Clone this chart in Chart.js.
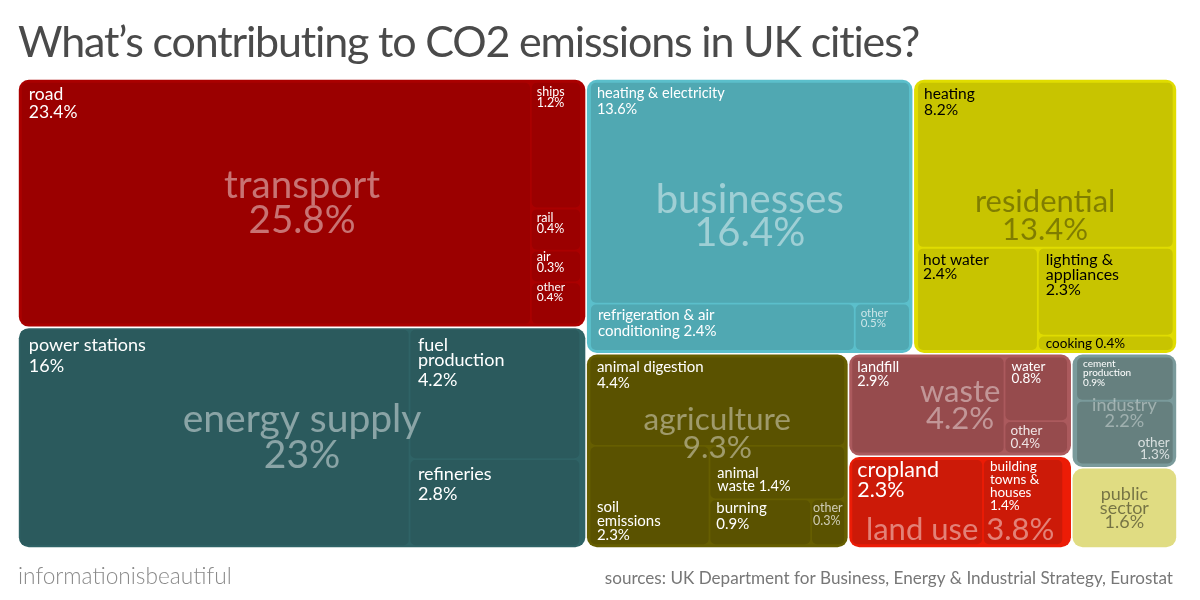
<!DOCTYPE html>
<html><head><meta charset="utf-8">
<script src="https://cdn.jsdelivr.net/npm/chart.js@4"></script>
<style>html,body{margin:0;padding:0;background:#fff}canvas{display:block}</style>
</head><body><canvas id="c" width="1200" height="600"></canvas>
<script>
// ---------- data ----------
const titleText = "What\u2019s contributing to CO2 emissions in UK cities?";
const brandText = "informationisbeautiful";
const sourceText = "sources: UK Department for Business, Energy & Industrial Strategy, Eurostat";

const groupNames = ["transport","energy supply","businesses","residential","agriculture","waste","land use","industry","public\nsector"];
const groupValues = [25.8,23,16.4,13.4,9.3,4.2,3.8,2.2,1.6];
// the blocks' areas as measured in the picture differ slightly from their printed shares
const groupAreas = [25.9,23,16.5,13.3,9.35,4.2,3.76,2.2,1.55];

// a name ending in a space keeps its value on the same line
const transportNames = ["road","ships","rail","air","other"];
const transportValues = [23.4,1.2,0.4,0.3,0.4];
const energyNames = ["power stations","fuel\nproduction","refineries"];
const energyValues = [16,4.2,2.8];
const businessNames = ["heating & electricity","refrigeration & air\nconditioning ","other"];
const businessValues = [13.6,2.4,0.5];
const residentialNames = ["heating","hot water","lighting &\nappliances","cooking "];
const residentialValues = [8.2,2.4,2.3,0.4];
const agricultureNames = ["animal digestion","soil\nemissions","animal\nwaste ","burning","other"];
const agricultureValues = [4.4,2.3,1.4,0.9,0.3];
const wasteNames = ["landfill","water","other"];
const wasteValues = [2.9,0.8,0.4];
const landNames = ["cropland","building\ntowns &\nhouses"];
const landValues = [2.3,1.4];
const industryNames = ["cement\nproduction","other"];
const industryValues = [0.9,1.3];
const publicNames = [];
const publicValues = [];

const leafNames = [transportNames,energyNames,businessNames,residentialNames,agricultureNames,wasteNames,landNames,industryNames,publicNames];
const leafValues = [transportValues,energyValues,businessValues,residentialValues,agricultureValues,wasteValues,landValues,industryValues,publicValues];

// ---------- how the treemap nests (indices into the arrays above) ----------
const H = (...k) => ({dir:'h',kids:k}), V = (...k) => ({dir:'v',kids:k});
const groupNesting = H(V(0,1), V(H(2,3), H(4,V(5,6),V(7,8))));
const leafNesting = [
  H(0,V(1,2,3,4)), H(0,V(1,2)), V(0,H(1,2)), V(0,H(1,V(2,3))),
  V(0,H(1,V(2,H(3,4)))), H(0,V(1,2)), H(0,1), V(0,1), null
];
const keepsSpareRoom = [true,false,false,false,false,false,true,false,false];

// ---------- styles ----------
const PLOT_W = 1159, PLOT_H = 469;
const groupFill  = ['#aa0000','#2f6366','#5bbfcb','#e0dc00','#665e00','#ab5a5d','#ec1c06','#7a9a9b','#e0dc82'];
const leafFill   = ['#9b0000','#2b5a5d','#50a8b2','#c8c400','#5a5200','#964b4d','#cc1a08','#66807f','#e0dc82'];
const groupInk   = ['rgba(255,255,255,.45)','rgba(255,255,255,.45)','rgba(255,255,255,.45)','rgba(0,0,0,.36)','rgba(255,255,255,.42)','rgba(255,255,255,.42)','rgba(255,255,255,.45)','rgba(255,255,255,.38)','rgba(0,0,0,.48)'];
const leafInk    = ['#fff','#fff','#fff','#000','#fff','#fff','#fff','#fff','#fff'];
const groupPad   = [[3,3,3,3],[1.5,1.5,6,2],[4,3,3.5,3],[4,3,3.5,3],[3.5,3,3.5,3],[3,3,4,3],[3,3,3,3],[4.5,3,3.5,3.5],[0,0,0,0]];
// size, line gap(s), dy of first line from the group's middle
const groupLabel = [
  {s:38.5,gaps:[35],dy:0},{s:39,gaps:[36],dy:0},{s:40,gaps:[33],dy:0},{s:31,gaps:[28],dy:0},
  {s:31.5,gaps:[28],dy:-17},{s:31,gaps:[27],dy:0},{s:31,gaps:[],dy:0,oneLine:true,atY:530},{s:18,gaps:[16],dy:2},{s:18,gaps:[14,14],dy:0}
];
const leafLabel = [
 [{s:17.5,dx:7,dy:12,g:[18]},{s:12.5,dx:5,dy:9,g:[11]},{s:12.5,dx:5,dy:9,g:[11]},{s:12.5,dx:5,dy:5,g:[11]},{s:12,dx:5,dy:4,g:[10]}],
 [{s:18,dx:8.5,dy:15,g:[21]},{s:18,dx:7.5,dy:15,g:[15,20]},{s:18,dx:7.5,dy:14,g:[20]}],
 [{s:14.5,dx:6,dy:11,g:[16]},{s:15,dx:7,dy:11,g:[16]},{s:11.5,dx:5,dy:9,g:[10],a:.7}],
 [{s:15.5,dx:6,dy:11,g:[16]},{s:15.5,dx:5,dy:11,g:[14]},{s:16,dx:7,dy:11,g:[15,15]},{s:13.5,dx:7,dy:7,g:[]}],
 [{s:15,dx:6.5,dy:10,g:[16]},{s:15,dx:6.5,dy:60,g:[14,14]},{s:14.5,dx:7,dy:27,g:[13]},{s:15,dx:6,dy:8,g:[16]},{s:12.5,dx:1,dy:8,g:[13],a:.7}],
 [{s:14.5,dx:5,dy:10,g:[14]},{s:13.5,dx:6,dy:9,g:[12]},{s:13.5,dx:5,dy:9,g:[13],a:.85}],
 [{s:21.5,dx:5,dy:10,g:[20]},{s:13.5,dx:6,dy:7,g:[12.5,13.5,13]}],
 [{s:10,dx:6,dy:6,g:[9,10]},{s:13.5,right:3,dy:41,g:[12],a:.75}],
 []
];
const FONT = 'Lato, "Noto Sans", sans-serif';

// ---------- treemap layout: rectangles follow from the values ----------
function weight(node, vals){
  return typeof node === 'number' ? vals[node] : node.kids.reduce((s,k)=>s+weight(k,vals),0);
}
function place(node, vals, r, out, total){
  if (typeof node === 'number'){ out[node] = r; return; }
  const sum = total || weight(node, vals);
  let at = node.dir === 'h' ? r.x0 : r.y0;
  node.kids.forEach(k=>{
    const f = weight(k,vals)/sum;
    if (node.dir === 'h'){ const w=(r.x1-r.x0)*f; place(k,vals,{x0:at,x1:at+w,y0:r.y0,y1:r.y1},out); at+=w; }
    else { const h=(r.y1-r.y0)*f; place(k,vals,{x0:r.x0,x1:r.x1,y0:at,y1:at+h},out); at+=h; }
  });
}
const groupRects = [];
place(groupNesting, groupAreas, {x0:0,x1:PLOT_W,y0:0,y1:PLOT_H}, groupRects);
const GAP = 0.8, LEAF_GAP = 0.9;
const groupCells = groupRects.map(r=>({x0:r.x0+GAP,x1:r.x1-GAP,y0:r.y0+GAP,y1:r.y1-GAP}));
const leafCells = [];
groupCells.forEach((g,i)=>{
  if (!leafNesting[i]) return;
  const p = groupPad[i], rects = [];
  place(leafNesting[i], leafValues[i], {x0:g.x0+p[0]-LEAF_GAP,y0:g.y0+p[1]-LEAF_GAP,x1:g.x1-p[2]+LEAF_GAP,y1:g.y1-p[3]+LEAF_GAP}, rects,
        keepsSpareRoom[i] ? groupValues[i] : 0);
  rects.forEach((r,j)=>leafCells.push({group:i,leaf:j,x0:r.x0+LEAF_GAP,x1:r.x1-LEAF_GAP,y0:r.y0+LEAF_GAP,y1:r.y1-LEAF_GAP}));
});

// ---------- a small dataset type: rounded rectangles placed by the x and y scales ----------
class CellController extends Chart.DatasetController {
  update(mode){ const m=this._cachedMeta; this.updateElements(m.data,0,m.data.length,mode); }
  updateElements(els,start,count,mode){
    const m=this._cachedMeta, data=this.getDataset().data;
    for(let i=start;i<start+count;i++){
      const d=data[i];
      const l=m.xScale.getPixelForValue(d.x0), r=m.xScale.getPixelForValue(d.x1);
      const t=m.yScale.getPixelForValue(d.y0), b=m.yScale.getPixelForValue(d.y1);
      this.updateElement(els[i],i,{x:(l+r)/2,width:r-l,y:t,base:b,height:b-t,horizontal:false,inflateAmount:0,
        enableBorderRadius:true,borderSkipped:{},options:this.resolveDataElementOptions(i,mode)},mode);
    }
  }
}
CellController.id='cell';
CellController.defaults={dataElementType:'bar'};
CellController.overrides={};
Chart.register(CellController);

function rectOf(el){ return {l:el.x-el.width/2,r:el.x+el.width/2,t:el.y,b:el.base}; }
function drawLines(ctx,lines,x,y,gaps){
  let yy=y;
  lines.forEach((ln,i)=>{ ctx.fillText(ln,x,yy); yy+=gaps[i]||0; });
}
const textPlugin = {
  id:'cellText',
  beforeDraw(chart){ chart.ctx.letterSpacing='-1.17px'; },
  afterDatasetsDraw(chart){
    const ctx=chart.ctx, leafMeta=chart.getDatasetMeta(1), groupMeta=chart.getDatasetMeta(0);
    ctx.letterSpacing='0px';
    ctx.save(); ctx.textBaseline='middle';
    // group captions
    groupNames.forEach((name,i)=>{
      const st=groupLabel[i], r=rectOf(groupMeta.data[i]), val=groupValues[i]+'%';
      ctx.font=`${st.s}px ${FONT}`; ctx.fillStyle=groupInk[i]; ctx.textAlign='center';
      const cx=(r.l+r.r)/2, cy=(r.t+r.b)/2+st.dy;
      if(st.oneLine){ ctx.fillText(name+' '+val,cx,st.atY); return; }
      const lines=name.split('\n').concat(val);
      const span=st.gaps.reduce((a,b)=>a+b,0);
      drawLines(ctx,lines,cx,cy-span/2,st.gaps);
    });
    // leaf captions
    leafCells.forEach((c,i)=>{
      const st=leafLabel[c.group][c.leaf], r=rectOf(leafMeta.data[i]);
      const name=leafNames[c.group][c.leaf], val=leafValues[c.group][c.leaf]+'%';
      const lines=(name.endsWith(' ')?name+val:name+'\n'+val).split('\n');
      ctx.font=`${st.s}px ${FONT}`; ctx.fillStyle=leafInk[c.group]; ctx.globalAlpha=st.a||1;
      if(st.right!==undefined){ ctx.textAlign='right'; drawLines(ctx,lines,r.r-st.right,r.t+st.dy,st.g); }
      else { ctx.textAlign='left'; drawLines(ctx,lines,r.l+st.dx,r.t+st.dy,st.g); }
    });
    ctx.globalAlpha=1;
    // footer
    ctx.font=`300 22.7px ${FONT}`; ctx.fillStyle='#8a8a8a'; ctx.textAlign='left';
    ctx.fillText(brandText,18,577);
    ctx.font=`17.1px ${FONT}`; ctx.fillStyle='#777'; ctx.textAlign='right';
    ctx.fillText(sourceText,1173,578);
    ctx.restore();
  }
};

new Chart(document.getElementById('c'),{
  type:'cell',
  data:{datasets:[
    {label:'groups',parsing:false,order:2,data:groupCells.map(c=>({x:c.x0,y:c.y0,...c})),
     backgroundColor:groupFill,borderWidth:0,borderRadius:10},
    {label:'parts',parsing:false,order:1,data:leafCells.map(c=>({x:c.x0,y:c.y0,...c})),
     backgroundColor:leafCells.map(c=>leafFill[c.group]),borderWidth:0,borderRadius:5}
  ]},
  options:{
    responsive:false,animation:false,events:[],devicePixelRatio:1,
    layout:{padding:{left:18,right:23,top:0,bottom:52}},
    plugins:{
      legend:{display:false},tooltip:{enabled:false},
      title:{display:true,text:titleText,align:'start',color:'#4a4a4a',
        font:{family:FONT,size:43,weight:'normal',lineHeight:1.2},padding:{top:17,bottom:10.4}}
    },
    scales:{
      x:{type:'linear',min:0,max:PLOT_W,display:false},
      y:{type:'linear',min:0,max:PLOT_H,reverse:true,display:false}
    }
  },
  plugins:[textPlugin]
});
</script></body></html>
